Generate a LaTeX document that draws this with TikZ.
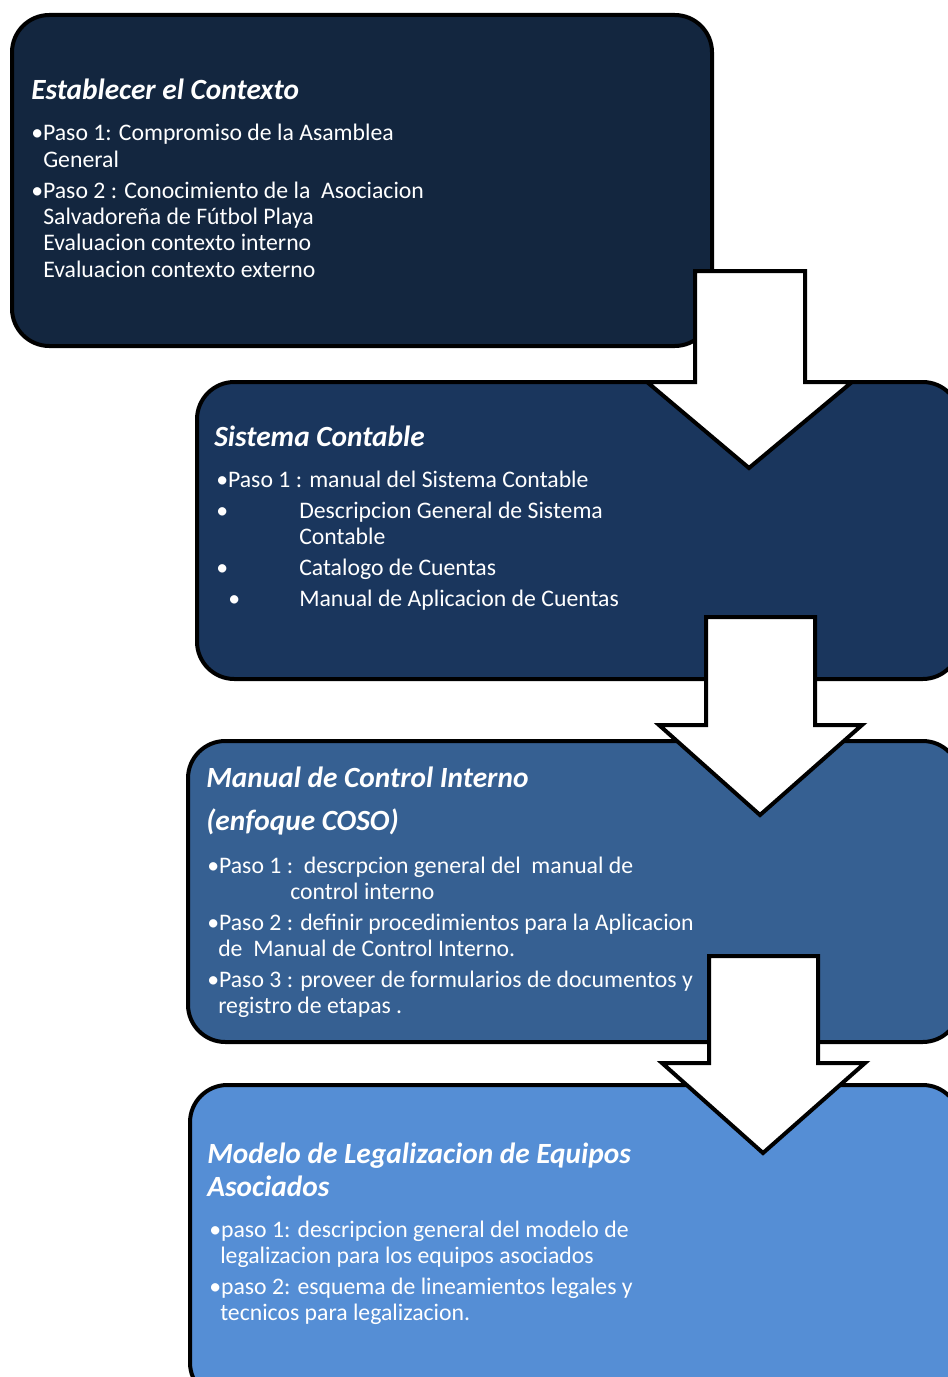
\documentclass[tikz,border=0pt]{standalone}
\usepackage{fontspec}
\setmainfont{Carlito}
\definecolor{stageone}{HTML}{13263F}
\definecolor{stagetwo}{HTML}{1A365D}
\definecolor{stagethree}{HTML}{366092}
\definecolor{stagefour}{HTML}{558ED5}

\begin{document}
\begin{tikzpicture}
	[x=0.75pt, y=-0.75pt,
	stage/.style ={draw=black, line width=3pt, rounded corners=28pt},
	title/.style ={anchor=base west, text=white, inner sep=0pt, font=\fontsize{22}{26}\selectfont\bfseries\itshape},
	item/.style ={anchor=base west, text=white, inner sep=0pt, font=\fontsize{17.8}{21}\selectfont},
	bigarrow/.style ={draw=black, line width=3pt, fill=white, line join=miter}]
	\useasboundingbox (0,0) rectangle (948,1377);
	\clip (0,0) rectangle (948,1377);
	% stages
	\draw[stage, fill=stageone] (12,15) rectangle (712,346);
	\draw[stage, fill=stagetwo] (197,382) rectangle (960,679);
	\draw[stage, fill=stagethree] (188,741) rectangle (960,1042);
	\draw[stage, fill=stagefour] (190,1085) rectangle (960,1400);
	% stage 1
	\node[title] (t1) at (31,100) {Establecer el Contexto};
	\node[item] (a1) at (31,141) {•Paso 1: Compromiso de la Asamblea};
	\node[item] (a2) at (43,167) {General};
	\node[item] (a3) at (31,198) {•Paso 2 : Conocimiento de la\ \ Asociacion};
	\node[item] (a4) at (43,224) {Salvadoreña de Fútbol Playa};
	\node[item] (a5) at (43,250) {Evaluacion contexto interno};
	\node[item] (a6) at (43,277) {Evaluacion contexto externo};
	% stage 2
	\node[title] (t2) at (214,446) {Sistema Contable};
	\node[item] (b1) at (216,487) {•Paso 1 : manual del Sistema Contable};
	\node[item] (b2) at (216,518) {•};
	\node[item] (b3) at (299,518) {Descripcion General de Sistema};
	\node[item] (b4) at (299,544) {Contable};
	\node[item] (b5) at (216,575) {•};
	\node[item] (b6) at (299,575) {Catalogo de Cuentas};
	\node[item] (b7) at (228,606) {•};
	\node[item] (b8) at (299,606) {Manual de Aplicacion de Cuentas};
	% stage 3
	\node[title] (t3) at (206,787) {Manual de Control Interno};
	\node[title] (t4) at (206,830) {(enfoque COSO)};
	\node[item] (c1) at (207,873) {•Paso 1 :\ \ descrpcion general del\ \ manual de};
	\node[item] (c2) at (290,899) {control interno};
	\node[item] (c3) at (207,930) {•Paso 2 : definir procedimientos para la Aplicacion};
	\node[item] (c4) at (218,956) {de\ \ Manual de Control Interno.};
	\node[item] (c5) at (207,987) {•Paso 3 : proveer de formularios de documentos y};
	\node[item] (c6) at (218,1013) {registro de etapas .};
	% stage 4
	\node[title] (t5) at (207,1163) {Modelo de Legalizacion de Equipos};
	\node[title] (t6) at (207,1196) {Asociados};
	\node[item] (d1) at (209,1237) {•paso 1: descripcion general del modelo de};
	\node[item] (d2) at (220,1263) {legalizacion para los equipos asociados};
	\node[item] (d3) at (209,1294) {•paso 2: esquema de lineamientos legales y};
	\node[item] (d4) at (220,1320) {tecnicos para legalizacion.};
	% arrows between stages
	\draw[bigarrow] (695,271) -- (805,271) -- (805,382) -- (852,382) -- (749,468) -- (647,382) -- (695,382) -- cycle;
	\draw[bigarrow] (706,617) -- (815,617) -- (815,725) -- (862,725) -- (760,815) -- (659,725) -- (706,725) -- cycle;
	\draw[bigarrow] (709,956) -- (818,956) -- (818,1063) -- (865,1063) -- (763,1153) -- (662,1063) -- (709,1063) -- cycle;
\end{tikzpicture}
\end{document}
